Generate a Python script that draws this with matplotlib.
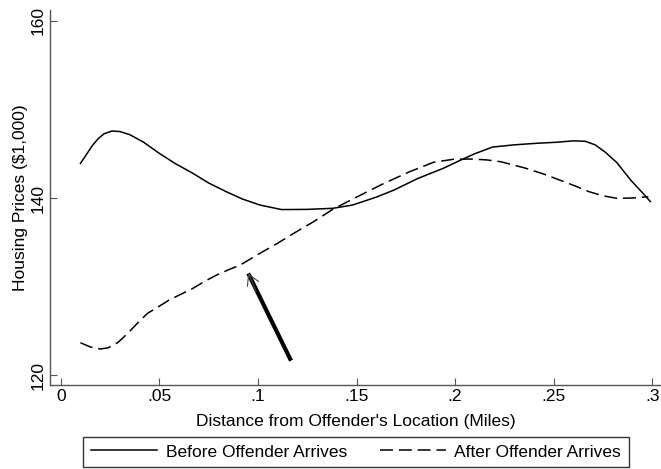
import numpy as np
import matplotlib
matplotlib.use('Agg')
from matplotlib import pyplot as plt
from matplotlib.ticker import FixedLocator, FixedFormatter

plt.rcParams['font.family'] = ['Liberation Sans', 'DejaVu Sans']
plt.rcParams['font.size'] = 12.5

# Curvas de preço antes e depois da chegada do agressor
dist_before = [0.010, 0.013, 0.016, 0.019, 0.022, 0.026, 0.030, 0.035, 0.042, 0.050,
               0.058, 0.067, 0.075, 0.084, 0.092, 0.101, 0.112, 0.125, 0.138, 0.148,
               0.160, 0.169, 0.181, 0.194, 0.203, 0.210, 0.219, 0.230, 0.241, 0.252,
               0.260, 0.266, 0.271, 0.276, 0.282, 0.289, 0.295, 0.299]
price_before = [143.9, 144.9, 145.9, 146.7, 147.25, 147.56, 147.5, 147.15, 146.3, 145.04,
                143.9, 142.79, 141.7, 140.71, 139.9, 139.21, 138.7, 138.72, 138.84, 139.21,
                140.1, 140.9, 142.2, 143.35, 144.3, 145.0, 145.75, 146.0, 146.17, 146.3,
                146.45, 146.4, 146.0, 145.2, 144.0, 142.03, 140.6, 139.6]

dist_after = [0.010, 0.015, 0.020, 0.024, 0.029, 0.034, 0.039, 0.044, 0.050, 0.055,
              0.061, 0.067, 0.073, 0.079, 0.085, 0.091, 0.101, 0.110, 0.118, 0.128,
              0.138, 0.150, 0.164, 0.177, 0.189, 0.199, 0.208, 0.216, 0.223, 0.236,
              0.245, 0.253, 0.261, 0.268, 0.275, 0.282, 0.290, 0.298]
price_after = [123.68, 123.2, 122.97, 123.1, 123.7, 124.74, 125.9, 126.99, 127.8, 128.5,
               129.15, 129.81, 130.6, 131.31, 131.9, 132.44, 133.76, 134.9, 136.0, 137.3,
               138.73, 140.1, 141.66, 142.97, 144.03, 144.37, 144.4, 144.3, 144.1, 143.35,
               142.7, 142.03, 141.35, 140.71, 140.25, 139.97, 140.0, 140.15]

xticks = [0, 0.05, 0.1, 0.15, 0.2, 0.25, 0.3]
xtick_labels = ['0', '.05', '.1', '.15', '.2', '.25', '.3']
yticks = [120, 140, 160]

# seta: cauda e ponta
arrow_tail = (0.1168, 121.65)
arrow_head = (0.0951, 131.5)

fig = plt.figure(figsize=(6.61, 4.69), dpi=100)
ax = fig.add_axes([50/661, 1-385/469, 611/661, 375/469])

ax.plot(dist_before, price_before, color='black', lw=1.1, solid_joinstyle='round',
        label='Before Offender Arrives')
ax.plot(dist_after, price_after, color='black', lw=1.1, dashes=(8.5, 3.8),
        dash_joinstyle='round', label='After Offender Arrives')

# seta grossa com ponta fina
ax.plot([arrow_tail[0], arrow_head[0]], [arrow_tail[1], arrow_head[1]],
        color='black', lw=3, solid_capstyle='butt')
ax.annotate('', xy=arrow_head, xytext=(arrow_head[0] + 0.004, arrow_head[1] - 2.0),
            arrowprops=dict(arrowstyle='->,head_length=0.6,head_width=0.35',
                            color='#444444', lw=0.8, shrinkA=0, shrinkB=0))

ax.set_xlim(-0.00543, 0.3044)
ax.set_ylim(118.91, 161.21)

ax.xaxis.set_major_locator(FixedLocator(xticks))
ax.xaxis.set_major_formatter(FixedFormatter(xtick_labels))
ax.set_yticks(yticks)
ax.set_yticklabels([str(v) for v in yticks], rotation=90, va='center')

for s in ['top', 'right']:
    ax.spines[s].set_visible(False)
for s in ['left', 'bottom']:
    ax.spines[s].set_color('#555555')
    ax.spines[s].set_linewidth(1.0)
ax.tick_params(direction='in', length=5, width=0.8, color='#555555', pad=3)
ax.tick_params(axis='y', pad=3)

ax.set_xlabel("Distance from Offender's Location (Miles)", labelpad=7)
ax.set_ylabel('Housing Prices ($1,000)', labelpad=2)

leg = fig.legend(loc='center', bbox_to_anchor=(356/661, 1-452/469), ncol=2,
                 handlelength=3.8, handletextpad=0.5, columnspacing=1.9,
                 fancybox=False, frameon=True, borderpad=0.45, fontsize=12.5)
leg.get_frame().set_edgecolor('black')
leg.get_frame().set_linewidth(1.0)

fig.savefig('out.png', dpi=100)
